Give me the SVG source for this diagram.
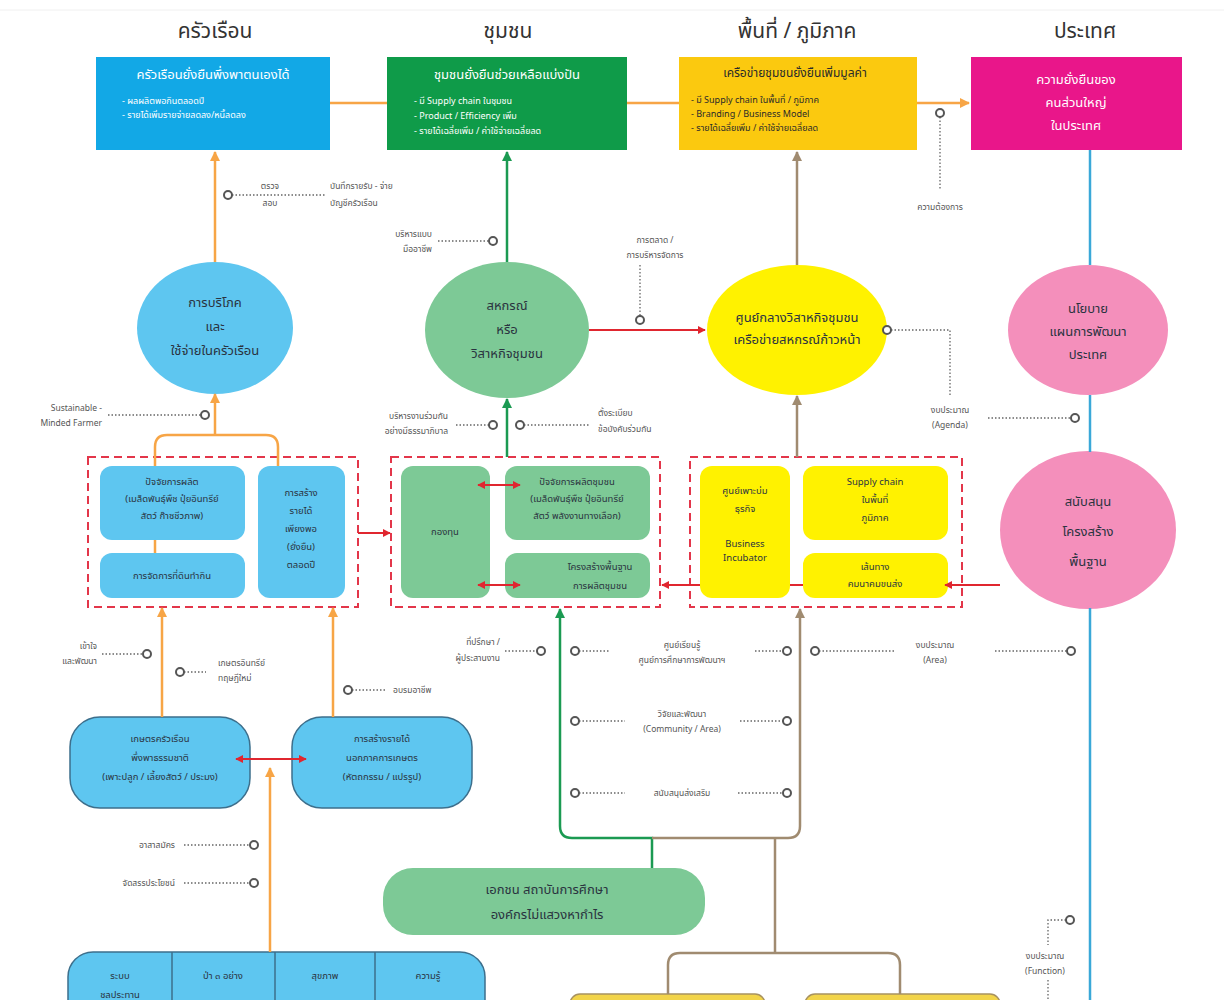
<svg xmlns="http://www.w3.org/2000/svg" width="1224" height="1000" viewBox="0 0 1224 1000">
<style>
text{font-family:"Noto Sans Thai","Noto Sans","DejaVu Sans",sans-serif;}
.hd{font-size:21px;fill:#333;text-anchor:middle}
.tw{fill:#fff;font-size:13px;text-anchor:middle}
.bl{fill:#fff;font-size:9px}
.bk{fill:#2a2a2a;font-size:9px}
.el{fill:#2a3340;font-size:13px;text-anchor:middle}
.sb{fill:#2a3340;font-size:9.5px;text-anchor:middle}
.lb{fill:#555;font-size:8.5px}
.mid{text-anchor:middle}
.end{text-anchor:end}
.dot{stroke:#666;stroke-width:1.3;stroke-dasharray:1.5 2;fill:none}
.cir{fill:#fff;stroke:#555;stroke-width:2}
.dash{fill:none;stroke:#e3364a;stroke-width:2;stroke-dasharray:8 5}
.lbf{fill:#5ec6f0}
.lgf{fill:#7dc996}
.ylf{fill:#fff200}
.pkf{fill:#f48fbb}
</style>
<defs>
<marker id="ao" viewBox="0 0 10 10" refX="9" refY="5" markerWidth="4" markerHeight="4" orient="auto-start-reverse"><path d="M0 0L10 5L0 10z" fill="#f7a546"/></marker>
<marker id="ag" viewBox="0 0 10 10" refX="9" refY="5" markerWidth="4" markerHeight="4" orient="auto-start-reverse"><path d="M0 0L10 5L0 10z" fill="#1b9a52"/></marker>
<marker id="ab" viewBox="0 0 10 10" refX="9" refY="5" markerWidth="4" markerHeight="4" orient="auto-start-reverse"><path d="M0 0L10 5L0 10z" fill="#a08b70"/></marker>
<marker id="ar" viewBox="0 0 10 10" refX="9" refY="5" markerWidth="4" markerHeight="4" orient="auto-start-reverse"><path d="M0 0L10 5L0 10z" fill="#e0262f"/></marker>
</defs>
<rect width="1224" height="1000" fill="#fff"/>
<line x1="0" y1="10" x2="1224" y2="10" stroke="#f0f0f0"/>

<!-- headers -->
<g id="headers">
<text class="hd" x="215" y="38">ครัวเรือน</text>
<text class="hd" x="508" y="38">ชุมชน</text>
<text class="hd" x="797" y="38">พื้นที่ / ภูมิภาค</text>
<text class="hd" x="1085" y="38">ประเทศ</text>
</g>

<!-- annotation labels -->
<g id="labels">
<text class="lb mid" x="270" y="189">ตรวจ</text>
<text class="lb mid" x="270" y="206">สอบ</text>
<text class="lb" x="330" y="189">บันทึกรายรับ - จ่าย</text>
<text class="lb" x="330" y="206">บัญชีครัวเรือน</text>
<text class="lb end" x="432" y="237">บริหารแบบ</text>
<text class="lb end" x="432" y="252">มืออาชีพ</text>
<text class="lb mid" x="655" y="243">การตลาด /</text>
<text class="lb mid" x="655" y="258">การบริหารจัดการ</text>
<text class="lb mid" x="940" y="210">ความต้องการ</text>
<text class="lb mid" x="950" y="413">งบประมาณ</text>
<text class="lb mid" x="950" y="428">(Agenda)</text>
<text class="lb end" x="102" y="411">Sustainable -</text>
<text class="lb end" x="102" y="426">Minded Farmer</text>
<text class="lb end" x="448" y="419">บริหารงานร่วมกัน</text>
<text class="lb end" x="448" y="434">อย่างมีธรรมาภิบาล</text>
<text class="lb" x="598" y="416">ตั้งระเบียบ</text>
<text class="lb" x="598" y="432">ข้อบังคับร่วมกัน</text>
<text class="lb end" x="97" y="649">เข้าใจ</text>
<text class="lb end" x="97" y="664">และพัฒนา</text>
<text class="lb" x="218" y="666">เกษตรอินทรีย์</text>
<text class="lb" x="218" y="681">ทฤษฎีใหม่</text>
<text class="lb" x="393" y="693">อบรมอาชีพ</text>
<text class="lb end" x="175" y="848">อาสาสมัคร</text>
<text class="lb end" x="175" y="886">จัดสรรประโยชน์</text>
<text class="lb end" x="500" y="645">ที่ปรึกษา /</text>
<text class="lb end" x="500" y="661">ผู้ประสานงาน</text>
<text class="lb mid" x="682" y="648">ศูนย์เรียนรู้</text>
<text class="lb mid" x="682" y="663">ศูนย์การศึกษาการพัฒนาฯ</text>
<text class="lb mid" x="935" y="648">งบประมาณ</text>
<text class="lb mid" x="935" y="663">(Area)</text>
<text class="lb mid" x="682" y="717">วิจัยและพัฒนา</text>
<text class="lb mid" x="682" y="732">(Community / Area)</text>
<text class="lb mid" x="682" y="796">สนับสนุนส่งเสริม</text>
<text class="lb mid" x="1045" y="959">งบประมาณ</text>
<text class="lb mid" x="1045" y="974">(Function)</text>
</g>

<!-- top outcome boxes -->
<g id="box-household">
<rect x="96" y="57" width="234" height="93" fill="#12a8e6"/>
<text class="tw" x="213" y="79">ครัวเรือนยั่งยืนพึ่งพาตนเองได้</text>
<text class="bl" x="122" y="104">- ผลผลิตพอกินตลอดปี</text>
<text class="bl" x="122" y="118">- รายได้เพิ่มรายจ่ายลดลง/หนี้ลดลง</text>
</g>
<g id="box-community">
<rect x="387" y="57" width="240" height="93" fill="#0f9b49"/>
<text class="tw" x="507" y="79">ชุมชนยั่งยืนช่วยเหลือแบ่งปัน</text>
<text class="bl" x="414" y="104">- มี Supply chain ในชุมชน</text>
<text class="bl" x="414" y="119">- Product / Efficiency เพิ่ม</text>
<text class="bl" x="414" y="134">- รายได้เฉลี่ยเพิ่ม / ค่าใช้จ่ายเฉลี่ยลด</text>
</g>
<g id="box-region">
<rect x="679" y="57" width="238" height="93" fill="#fbc90f"/>
<text x="795" y="77" class="mid" fill="#2a2a2a" font-size="12">เครือข่ายชุมชนยั่งยืนเพิ่มมูลค่า</text>
<text class="bk" x="691" y="103">- มี Supply chain ในพื้นที่ / ภูมิภาค</text>
<text class="bk" x="691" y="117">- Branding / Business Model</text>
<text class="bk" x="691" y="131">- รายได้เฉลี่ยเพิ่ม / ค่าใช้จ่ายเฉลี่ยลด</text>
</g>
<g id="box-country">
<rect x="971" y="57" width="211" height="93" fill="#e9168a"/>
<text class="tw" x="1076" y="84" font-size="15">ความยั่งยืนของ</text>
<text class="tw" x="1076" y="107" font-size="15">คนส่วนใหญ่</text>
<text class="tw" x="1076" y="130" font-size="15">ในประเทศ</text>
</g>

<!-- ellipses -->
<g id="ellipse-consumption">
<ellipse class="lbf" cx="215" cy="328" rx="78" ry="66"/>
<text class="el" x="215" y="307">การบริโภค</text>
<text class="el" x="215" y="331">และ</text>
<text class="el" x="215" y="355">ใช้จ่ายในครัวเรือน</text>
</g>
<g id="ellipse-coop">
<ellipse class="lgf" cx="507" cy="330" rx="82" ry="68"/>
<text class="el" x="507" y="310">สหกรณ์</text>
<text class="el" x="507" y="334">หรือ</text>
<text class="el" x="507" y="358">วิสาหกิจชุมชน</text>
</g>
<g id="ellipse-center">
<ellipse class="ylf" cx="797" cy="330" rx="90" ry="65"/>
<text class="el" x="797" y="322" font-size="12.5">ศูนย์กลางวิสาหกิจชุมชน</text>
<text class="el" x="797" y="344" font-size="12.5">เครือข่ายสหกรณ์ก้าวหน้า</text>
</g>
<g id="ellipse-policy">
<ellipse class="pkf" cx="1088" cy="330" rx="80" ry="65"/>
<text class="el" x="1088" y="313">นโยบาย</text>
<text class="el" x="1088" y="336">แผนการพัฒนา</text>
<text class="el" x="1088" y="359">ประเทศ</text>
</g>
<g id="ellipse-infra">
<ellipse class="pkf" cx="1088" cy="530" rx="88" ry="79"/>
<text class="el" x="1088" y="506" font-size="19">สนับสนุน</text>
<text class="el" x="1088" y="536" font-size="19">โครงสร้าง</text>
<text class="el" x="1088" y="566" font-size="19">พื้นฐาน</text>
</g>

<!-- background pieces of connectors that run behind sub-boxes -->
<g id="connectors-behind" fill="none">
<line x1="803" y1="585" x2="790" y2="585" stroke="#e0262f" stroke-width="2"/>
</g>

<!-- dashed group 1 -->
<g id="group-household">
<rect class="dash" x="88" y="457" width="270" height="150"/>
<rect class="lbf" x="100" y="466" width="145" height="74" rx="12"/>
<text class="sb" x="172" y="485">ปัจจัยการผลิต</text>
<text class="sb" x="172" y="502">(เมล็ดพันธุ์พืช ปุ๋ยอินทรีย์</text>
<text class="sb" x="172" y="519">สัตว์ ก๊าซชีวภาพ)</text>
<rect class="lbf" x="100" y="553" width="145" height="45" rx="12"/>
<text class="sb" x="172" y="579">การจัดการที่ดินทำกิน</text>
<rect class="lbf" x="258" y="466" width="87" height="132" rx="12"/>
<text class="sb" x="301" y="496">การสร้าง</text>
<text class="sb" x="301" y="514">รายได้</text>
<text class="sb" x="301" y="532">เพียงพอ</text>
<text class="sb" x="301" y="550">(ยั่งยืน)</text>
<text class="sb" x="301" y="568">ตลอดปี</text>
</g>
<!-- dashed group 2 -->
<g id="group-community">
<rect class="dash" x="391" y="457" width="269" height="150"/>
<rect class="lgf" x="401" y="466" width="89" height="132" rx="12"/>
<text class="sb" x="445" y="535">กองทุน</text>
<rect class="lgf" x="505" y="466" width="145" height="74" rx="12"/>
<text class="sb" x="577" y="485">ปัจจัยการผลิตชุมชน</text>
<text class="sb" x="577" y="502">(เมล็ดพันธุ์พืช ปุ๋ยอินทรีย์</text>
<text class="sb" x="577" y="519">สัตว์ พลังงานทางเลือก)</text>
<rect class="lgf" x="505" y="553" width="145" height="45" rx="12"/>
<text class="sb" x="600" y="570">โครงสร้างพื้นฐาน</text>
<text class="sb" x="600" y="589">การผลิตชุมชน</text>
</g>
<!-- dashed group 3 -->
<g id="group-region">
<rect class="dash" x="690" y="457" width="272" height="150"/>
<rect class="ylf" x="700" y="466" width="90" height="132" rx="12"/>
<text class="sb" x="745" y="494">ศูนย์เพาะบ่ม</text>
<text class="sb" x="745" y="512">ธุรกิจ</text>
<text class="sb" x="745" y="547" font-size="8.5">Business</text>
<text class="sb" x="745" y="561" font-size="8.5">Incubator</text>
<rect class="ylf" x="803" y="466" width="145" height="74" rx="12"/>
<text class="sb" x="875" y="485" font-size="8.5">Supply chain</text>
<text class="sb" x="875" y="503">ในพื้นที่</text>
<text class="sb" x="875" y="521">ภูมิภาค</text>
<rect class="ylf" x="803" y="553" width="145" height="45" rx="12"/>
<text class="sb" x="875" y="570">เส้นทาง</text>
<text class="sb" x="875" y="587">คมนาคมขนส่ง</text>
</g>

<!-- bottom left boxes -->
<g id="box-farming">
<rect x="70" y="717" width="180" height="91" rx="30" fill="#5ec6f0" stroke="#3d6f8c" stroke-width="1.5"/>
<text class="sb" x="160" y="742">เกษตรครัวเรือน</text>
<text class="sb" x="160" y="761">พึ่งพาธรรมชาติ</text>
<text class="sb" x="160" y="780">(เพาะปลูก / เลี้ยงสัตว์ / ประมง)</text>
</g>
<g id="box-offfarm">
<rect x="292" y="717" width="180" height="91" rx="30" fill="#5ec6f0" stroke="#3d6f8c" stroke-width="1.5"/>
<text class="sb" x="382" y="742">การสร้างรายได้</text>
<text class="sb" x="382" y="761">นอกภาคการเกษตร</text>
<text class="sb" x="382" y="780">(หัตถกรรม / แปรรูป)</text>
</g>
<g id="box-basics">
<rect x="68" y="952" width="417" height="80" rx="25" fill="#5ec6f0" stroke="#3d6f8c" stroke-width="1.5"/>
<line x1="172" y1="952" x2="172" y2="1000" stroke="#3d6f8c" stroke-width="1.5"/>
<line x1="275" y1="952" x2="275" y2="1000" stroke="#3d6f8c" stroke-width="1.5"/>
<line x1="375" y1="952" x2="375" y2="1000" stroke="#3d6f8c" stroke-width="1.5"/>
<text class="sb" x="120" y="979" font-size="11">ระบบ</text>
<text class="sb" x="120" y="998" font-size="11">ชลประทาน</text>
<text class="sb" x="223" y="979" font-size="11">ป่า ๓ อย่าง</text>
<text class="sb" x="325" y="979" font-size="11">สุขภาพ</text>
<text class="sb" x="428" y="979" font-size="11">ความรู้</text>
</g>
<g id="box-private">
<rect class="lgf" x="383" y="868" width="322" height="67" rx="30"/>
<text class="el" x="547" y="894" font-size="15">เอกชน สถาบันการศึกษา</text>
<text class="el" x="547" y="919" font-size="15">องค์กรไม่แสวงหากำไร</text>
</g>
<g id="box-bottom-a">
<rect x="570" y="994" width="195" height="30" rx="10" fill="#f2d44a" stroke="#a89260" stroke-width="1.5"/>
</g>
<g id="box-bottom-b">
<rect x="805" y="994" width="195" height="30" rx="10" fill="#f2d44a" stroke="#a89260" stroke-width="1.5"/>
</g>

<!-- connectors -->
<g id="connectors" fill="none">
<g stroke="#f7a546" stroke-width="2.5">
<line x1="330" y1="103" x2="387" y2="103"/>
<line x1="627" y1="103" x2="679" y2="103"/>
<line x1="917" y1="103" x2="969" y2="103" marker-end="url(#ao)"/>
<line x1="215" y1="262" x2="215" y2="152" marker-end="url(#ao)"/>
<line x1="215" y1="435" x2="215" y2="394" marker-end="url(#ao)"/>
<path d="M155 466V447Q155 435 167 435H266Q278 435 278 447V466"/>
<line x1="155" y1="540" x2="155" y2="553"/>
<line x1="162" y1="717" x2="162" y2="608" marker-end="url(#ao)"/>
<line x1="333" y1="717" x2="333" y2="608" marker-end="url(#ao)"/>
<line x1="270" y1="952" x2="270" y2="768" marker-end="url(#ao)"/>
</g>
<g stroke="#1b9a52" stroke-width="2.5">
<line x1="507" y1="262" x2="507" y2="152" marker-end="url(#ag)"/>
<line x1="507" y1="457" x2="507" y2="399" marker-end="url(#ag)"/>
<path d="M652 868V838H572Q560 838 560 826V609" marker-end="url(#ag)"/>
</g>
<g stroke="#a08b70" stroke-width="2.5">
<line x1="797" y1="265" x2="797" y2="152" marker-end="url(#ab)"/>
<line x1="797" y1="457" x2="797" y2="396" marker-end="url(#ab)"/>
<path d="M652 838H788Q800 838 800 826V609" marker-end="url(#ab)"/>
<line x1="775" y1="838" x2="775" y2="953"/>
<path d="M668 994V965Q668 953 680 953H888Q900 953 900 965V994"/>
</g>
<g stroke="#3aa8d8" stroke-width="2.5">
<line x1="1090" y1="150" x2="1090" y2="265"/>
<line x1="1090" y1="395" x2="1090" y2="452"/>
<line x1="1090" y1="608" x2="1090" y2="1000"/>
</g>
<g stroke="#e0262f" stroke-width="2">
<line x1="589" y1="330" x2="705" y2="330" marker-end="url(#ar)"/>
<line x1="358" y1="533" x2="390" y2="533" marker-end="url(#ar)"/>
<line x1="478" y1="485" x2="520" y2="485" marker-start="url(#ar)" marker-end="url(#ar)"/>
<line x1="478" y1="585" x2="520" y2="585" marker-start="url(#ar)" marker-end="url(#ar)"/>
<line x1="1000" y1="585" x2="945" y2="585" marker-end="url(#ar)"/>
<line x1="700" y1="585" x2="662" y2="585" marker-end="url(#ar)"/>
<line x1="236" y1="759" x2="306" y2="759" marker-start="url(#ar)" marker-end="url(#ar)"/>
</g>
<!-- dotted annotation leaders -->
<line class="dot" x1="232" y1="195" x2="325" y2="195"/>
<line class="dot" x1="438" y1="241" x2="489" y2="241"/>
<line class="dot" x1="640" y1="265" x2="640" y2="316"/>
<line class="dot" x1="940" y1="117" x2="940" y2="190"/>
<path class="dot" d="M891 330H950V395"/>
<line class="dot" x1="988" y1="418" x2="1071" y2="418"/>
<line class="dot" x1="108" y1="415" x2="201" y2="415"/>
<line class="dot" x1="456" y1="425" x2="489" y2="425"/>
<line class="dot" x1="524" y1="425" x2="590" y2="425"/>
<line class="dot" x1="102" y1="654" x2="143" y2="654"/>
<line class="dot" x1="184" y1="672" x2="206" y2="672"/>
<line class="dot" x1="352" y1="690" x2="385" y2="690"/>
<line class="dot" x1="184" y1="845" x2="250" y2="845"/>
<line class="dot" x1="184" y1="883" x2="250" y2="883"/>
<line class="dot" x1="505" y1="651" x2="537" y2="651"/>
<line class="dot" x1="579" y1="651" x2="610" y2="651"/>
<line class="dot" x1="755" y1="651" x2="783" y2="651"/>
<line class="dot" x1="819" y1="651" x2="895" y2="651"/>
<line class="dot" x1="995" y1="651" x2="1067" y2="651"/>
<line class="dot" x1="579" y1="721" x2="625" y2="721"/>
<line class="dot" x1="740" y1="721" x2="783" y2="721"/>
<line class="dot" x1="579" y1="793" x2="625" y2="793"/>
<line class="dot" x1="738" y1="793" x2="783" y2="793"/>
<path class="dot" d="M1066 920H1048V945"/>
<line class="dot" x1="1048" y1="980" x2="1048" y2="1000"/>
<!-- circles -->
<circle class="cir" cx="228" cy="195" r="4"/>
<circle class="cir" cx="493" cy="241" r="4"/>
<circle class="cir" cx="640" cy="320" r="4"/>
<circle class="cir" cx="940" cy="113" r="4"/>
<circle class="cir" cx="887" cy="330" r="4"/>
<circle class="cir" cx="1075" cy="418" r="4"/>
<circle class="cir" cx="205" cy="415" r="4"/>
<circle class="cir" cx="493" cy="425" r="4"/>
<circle class="cir" cx="520" cy="425" r="4"/>
<circle class="cir" cx="147" cy="654" r="4"/>
<circle class="cir" cx="180" cy="672" r="4"/>
<circle class="cir" cx="348" cy="690" r="4"/>
<circle class="cir" cx="254" cy="845" r="4"/>
<circle class="cir" cx="254" cy="883" r="4"/>
<circle class="cir" cx="541" cy="651" r="4"/>
<circle class="cir" cx="575" cy="651" r="4"/>
<circle class="cir" cx="787" cy="651" r="4"/>
<circle class="cir" cx="815" cy="651" r="4"/>
<circle class="cir" cx="1071" cy="651" r="4"/>
<circle class="cir" cx="575" cy="721" r="4"/>
<circle class="cir" cx="787" cy="721" r="4"/>
<circle class="cir" cx="575" cy="793" r="4"/>
<circle class="cir" cx="787" cy="793" r="4"/>
<circle class="cir" cx="1070" cy="920" r="4"/>
</g>
</svg>
